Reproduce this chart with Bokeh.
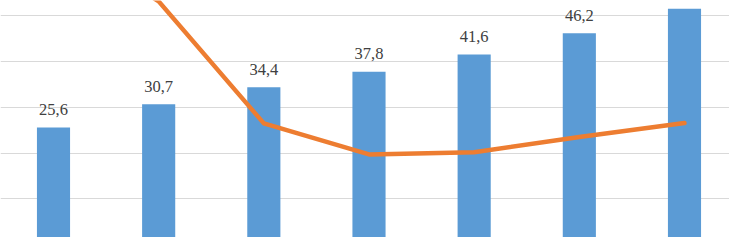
from bokeh.plotting import figure
from bokeh.models import ColumnDataSource, LabelSet, Range1d, FixedTicker
from bokeh.embed import file_html
from bokeh.resources import INLINE

# ---- data ----
categories = ["1", "2", "3", "4", "5", "6", "7"]
bar_values = [25.6, 30.7, 34.4, 37.8, 41.6, 46.2, 51.6]
line_values = [68.0, 53.2, 26.5, 19.7, 20.2, 23.5, 26.6]
grid_ticks = [0, 10, 20, 30, 40, 50]

Y_MIN, Y_MAX = 1.53, 53.39
X_MIN, X_MAX = -0.504, 6.428

xs = list(range(len(categories)))
# a data label is only shown when it fits inside the visible plot area
labels = [f"{v:.1f}".replace(".", ",") if v < Y_MAX - 6 else "" for v in bar_values]

src = ColumnDataSource(dict(x=xs, cat=categories, bar=bar_values,
                            line=line_values, label=labels))

p = figure(width=729, height=237, output_backend="svg", toolbar_location=None,
           x_range=Range1d(X_MIN, X_MAX), y_range=Range1d(Y_MIN, Y_MAX),
           min_border=0, outline_line_color=None)
p.xaxis.visible = False
p.yaxis.visible = False
p.xgrid.visible = False
p.ygrid.ticker = FixedTicker(ticks=grid_ticks)
p.ygrid.grid_line_color = "#D9D9D9"
p.ygrid.grid_line_width = 1.2
p.background_fill_color = "white"
p.border_fill_color = "white"

p.vbar(x="x", top="bar", bottom=0, width=0.315, source=src,
       fill_color="#5B9BD5", line_color=None)
p.line(x="x", y="line", source=src, line_color="#ED7D31", line_width=4.5,
       line_join="round", line_cap="round")

lbl = LabelSet(x="x", y="bar", text="label", source=src, y_offset=12.5,
               text_align="center", text_baseline="alphabetic",
               text_font="Open Sans", text_font_size="16.5px",
               text_color="#404040")
p.add_layout(lbl)

open("out.html", "w").write(file_html(p, INLINE))
